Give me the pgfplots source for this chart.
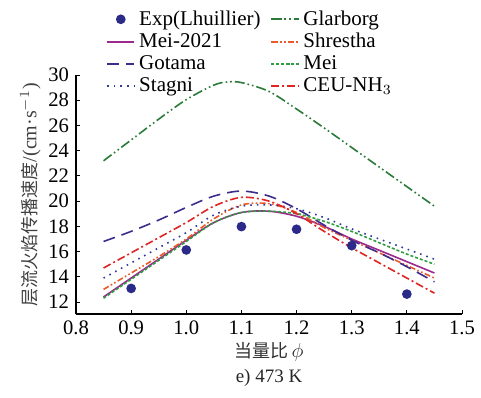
\documentclass[border=0pt]{standalone}
\usepackage{fontspec}
\setmainfont{Liberation Serif}
\newfontfamily\cjk{Noto Sans CJK SC}
\usepackage{pgfplots}
\pgfplotsset{compat=1.18}
\definecolor{cExp}{HTML}{2B2A88}
\definecolor{cMeiA}{HTML}{9A2A8E}
\definecolor{cGot}{HTML}{3C2D8C}
\definecolor{cSta}{HTML}{2F3A9A}
\definecolor{cGla}{HTML}{2A7A3A}
\definecolor{cShr}{HTML}{EA5A2A}
\definecolor{cMei}{HTML}{2E9E3E}
\definecolor{cCEU}{HTML}{E02424}
\begin{document}
\begin{tikzpicture}
\begin{axis}[
  scale only axis, width=193pt, height=119.5pt,
  xmin=0.8, xmax=1.5, ymin=11.05, ymax=30,
  axis x line=bottom, axis y line=left,
  axis line style={-, line width=0.6pt},
  tick align=inside, major tick length=2pt,
  tick style={line width=0.5pt, black},
  xtick={0.8,0.9,...,1.5}, ytick={12,14,...,30},
  x tick label style={/pgf/number format/.cd, fixed, fixed zerofill, precision=1},
  /pgf/number format/assume math mode=true,
  font=\fontsize{10}{12}\selectfont,
  tick label style={font=\fontsize{10.3}{12}\selectfont},
  xlabel={{\cjk\fontsize{9}{11}\selectfont 当量比}\,$\phi$},
  ylabel={{\cjk\fontsize{9}{11}\selectfont 层流火焰传播速度}/(cm·s$^{-1}$)},
  ylabel style={yshift=-3pt, text=black!75},
  xlabel style={yshift=3pt, text=black!80},
  legend columns=2,
  legend cell align=left,
  legend style={draw=none, fill=none, at={(0.062,1.305)}, anchor=north west,
    font=\fontsize{10.5}{12}\selectfont, row sep=-1.5pt,
    /tikz/every even column/.append style={column sep=3pt}},
  legend image code/.code={\draw[mark repeat=2, mark phase=2, #1] plot coordinates {(0cm,0cm) (0.24cm,0cm) (0.48cm,0cm)};},
  every axis plot/.append style={line width=0.8pt},
]
\addplot[only marks, mark=*, mark size=2pt, color=cExp] coordinates {
(0.9,13.08) (1.0,16.13) (1.1,17.98) (1.2,17.77) (1.3,16.47) (1.4,12.63)};
\addlegendentry{Exp(Lhuillier)}
\addplot[smooth, color=cGla, dash pattern=on 5pt off 1.5pt on 0.8pt off 1.5pt on 0.8pt off 1.5pt] coordinates {
(0.85,23.2) (0.9,24.85) (0.95,26.5) (1.0,28.05) (1.05,29.2) (1.075,29.45) (1.1,29.4) (1.15,28.7) (1.2,27.3) (1.25,25.8) (1.3,24.25) (1.35,22.7) (1.4,21.15) (1.45,19.6)};
\addlegendentry{Glarborg}
\addplot[smooth, color=cMeiA] coordinates {
(0.85,12.4) (0.9,13.9) (0.95,15.4) (1.0,16.9) (1.05,18.3) (1.1,19.1) (1.15,19.2) (1.2,18.8) (1.25,18.0) (1.3,17.0) (1.35,16.1) (1.4,15.2) (1.45,14.3)};
\addlegendentry{Mei-2021}
\addplot[smooth, color=cShr, dash pattern=on 3pt off 1.2pt on 0.8pt off 1.2pt on 0.8pt off 1.2pt] coordinates {
(0.85,13.0) (0.9,14.3) (0.95,15.6) (1.0,17.0) (1.05,18.6) (1.1,19.7) (1.15,19.8) (1.2,19.1) (1.25,17.9) (1.3,16.9) (1.35,15.9) (1.4,14.9) (1.45,13.9)};
\addlegendentry{Shrestha}
\addplot[smooth, color=cGot, dash pattern=on 6pt off 3.5pt] coordinates {
(0.85,16.8) (0.9,17.6) (0.95,18.5) (1.0,19.5) (1.05,20.4) (1.1,20.8) (1.15,20.4) (1.2,19.4) (1.25,18.1) (1.3,16.9) (1.35,15.9) (1.4,14.8) (1.45,13.6)};
\addlegendentry{Gotama}
\addplot[smooth, color=cMei, dash pattern=on 1.5pt off 1pt] coordinates {
(0.85,12.3) (0.9,13.8) (0.95,15.3) (1.0,16.8) (1.05,18.3) (1.1,19.1) (1.15,19.2) (1.2,19.0) (1.25,18.4) (1.3,17.6) (1.35,16.7) (1.4,15.8) (1.45,15.0)};
\addlegendentry{Mei}
\addplot[smooth, color=cSta, dash pattern=on 0.8pt off 2.5pt] coordinates {
(0.85,13.9) (0.9,15.1) (0.95,16.3) (1.0,17.5) (1.05,18.9) (1.1,19.6) (1.15,19.7) (1.2,19.4) (1.25,18.7) (1.3,17.8) (1.35,17.0) (1.4,16.2) (1.45,15.4)};
\addlegendentry{Stagni}
\addplot[smooth, color=cCEU, dash pattern=on 4pt off 1.5pt on 1pt off 1.5pt] coordinates {
(0.85,14.7) (0.9,15.9) (0.95,17.1) (1.0,18.3) (1.05,19.6) (1.1,20.3) (1.15,20.0) (1.2,19.0) (1.25,17.6) (1.3,16.3) (1.35,15.1) (1.4,13.9) (1.45,12.7)};
\addlegendentry{CEU-NH$_3$}
\end{axis}
\node[font=\fontsize{9.5}{11}\selectfont, anchor=center, yshift=-32pt, text=black!85] at (current axis.south) {e) 473 K};
\pgfresetboundingbox
\path (current axis.south west) ++(-38pt,-41.5pt) rectangle ++(240.5pt,198.5pt);
\end{tikzpicture}
\end{document}
